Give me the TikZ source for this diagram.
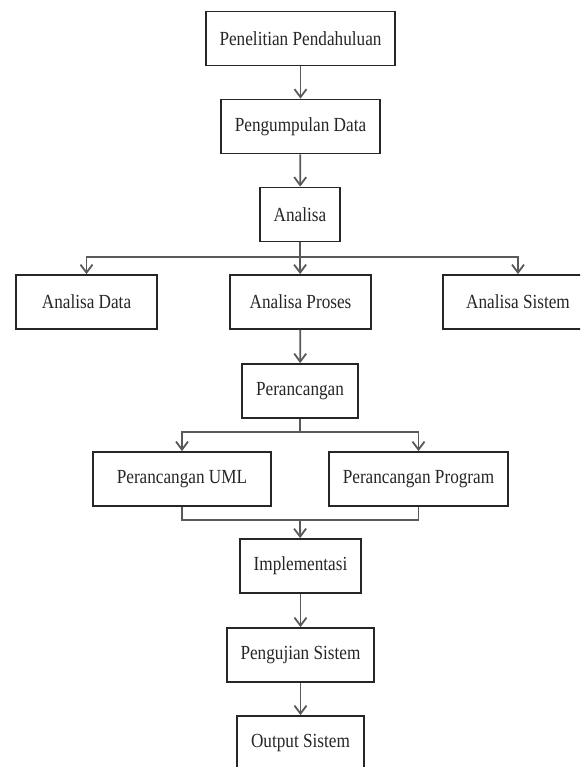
\documentclass[tikz,border=0pt]{standalone}
\usepackage{fontspec}
\setmainfont{Liberation Serif}[FakeStretch=0.86]
\usetikzlibrary{arrows.meta,positioning}

\begin{document}
\begin{tikzpicture}[
    x=0.5pt, y=-0.5pt,
    box/.style={draw=black!85, line width=0.9pt, minimum height=27pt, inner sep=0pt, font=\fontsize{10}{12}\selectfont, text=black!85},
    arr/.style={-{Straight Barb[length=4pt, width=6pt]}, line width=0.9pt, color=black!65},
    conn/.style={line width=0.9pt, color=black!65},
  ]
  \path[use as bounding box, clip] (0,0) rectangle (580,767);

  % Main flow
  \node[box, minimum width=94.5pt] (pendahuluan) at (300.5, 38.5)  {Penelitian Pendahuluan};
  \node[box, minimum width=79.5pt] (pengumpulan) at (300.5, 126.5) {Pengumpulan Data};
  \node[box, minimum width=40pt]   (analisa)     at (300, 214.5)   {Analisa};

  % Analysis nodes
  \node[box, minimum width=70.5pt] (adata)   at (86.5, 302)  {Analisa Data};
  \node[box, minimum width=70.5pt] (aproses) at (300.5, 302) {Analisa Proses};
  \node[box, minimum width=75pt]   (asistem) at (518, 302)   {Analisa Sistem};

  % Design nodes
  \node[box, minimum width=58pt]   (perancangan) at (300, 391)   {Perancangan};
  \node[box, minimum width=89pt]   (uml)         at (182, 479)   {Perancangan UML};
  \node[box, minimum width=89.5pt] (program)     at (418.5, 479) {Perancangan Program};

  % Final steps
  \node[box, minimum width=60.5pt] (implementasi) at (300.5, 566) {Implementasi};
  \node[box, minimum width=73.5pt] (pengujian)    at (300.5, 655) {Pengujian Sistem};
  \node[box, minimum width=63.5pt] (output)       at (300.5, 743) {Output Sistem};

  % Branch points
  \coordinate (split_a) at (300, 257);
  \coordinate (split_p) at (300, 432);
  \coordinate (join_p)  at (300, 520);

  % Edges
  \draw[arr]  (pendahuluan) -- (pengumpulan);
  \draw[arr]  (pengumpulan) -- (analisa);
  \draw[conn] (analisa) -- (split_a);
  \draw[arr]  (split_a) -| (adata.north);
  \draw[arr]  (split_a) -- (aproses);
  \draw[arr]  (split_a) -| (asistem.north);
  \draw[arr]  (aproses) -- (perancangan);
  \draw[conn] (perancangan) -- (split_p);
  \draw[arr]  (split_p) -| (uml.north);
  \draw[arr]  (split_p) -| (program.north);
  \draw[conn] (uml.south) |- (join_p);
  \draw[conn] (program.south) |- (join_p);
  \draw[arr]  (join_p) -- (implementasi);
  \draw[arr]  (implementasi) -- (pengujian);
  \draw[arr]  (pengujian) -- (output);
\end{tikzpicture}
\end{document}
